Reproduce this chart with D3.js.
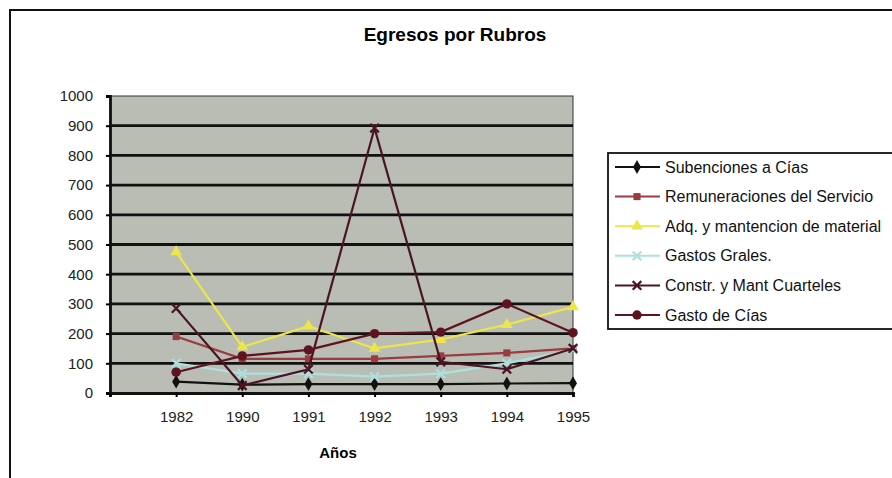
<!DOCTYPE html>
<html>
<head>
<meta charset="utf-8">
<title>Egresos por Rubros</title>
<style>
  body { margin: 0; background: #fff; }
  text { font-family: "Liberation Sans", Arial, sans-serif; }
</style>
<script src="https://d3js.org/d3.v7.min.js"></script>
</head>
<body>
<svg width="892" height="478"></svg>
<script>
// data
var years = ["1982", "1990", "1991", "1992", "1993", "1994", "1995"];
var subenciones    = [38, 28, 30, 30, 30, 32, 33];
var remuneraciones = [190, 115, 115, 115, 125, 135, 150];
var adquisicion    = [475, 155, 225, 150, 180, 230, 290];
var gastosGrales   = [100, 65, 65, 55, 65, 100, 145];
var construccion   = [285, 25, 80, 892, 105, 80, 150];
var gastoCias      = [70, 125, 145, 200, 205, 300, 203];
var yTicks = [0, 100, 200, 300, 400, 500, 600, 700, 800, 900, 1000];

var series = [
  { name: "Subenciones a Cías", values: subenciones, color: "#111", marker: "diamond" },
  { name: "Remuneraciones del Servicio", values: remuneraciones, color: "#9a3b42", marker: "square" },
  { name: "Adq. y mantencion de material", values: adquisicion, color: "#ece64a", marker: "triangle" },
  { name: "Gastos Grales.", values: gastosGrales, color: "#aee0df", marker: "x" },
  { name: "Constr. y Mant Cuarteles", values: construccion, color: "#4a1424", marker: "x" },
  { name: "Gasto de Cías", values: gastoCias, color: "#5e1420", marker: "circle" }
];

var svg = d3.select("svg");

// outer frame
svg.append("path")
  .attr("d", "M10,478 L10,10 L892,10")
  .attr("fill", "none").attr("stroke", "#111").attr("stroke-width", 2);

svg.append("text")
  .attr("x", 455).attr("y", 41)
  .attr("text-anchor", "middle")
  .attr("font-size", "19px").attr("font-weight", "bold")
  .text("Egresos por Rubros");

var plotLeft = 110, plotRight = 573, plotTop = 96, plotBottom = 393;

var x = d3.scalePoint().domain([""].concat(years)).range([plotLeft, plotRight]);
var y = d3.scaleLinear().domain([0, 1000]).range([plotBottom, plotTop]);

// plot background
svg.append("rect")
  .attr("x", plotLeft).attr("y", plotTop)
  .attr("width", plotRight - plotLeft).attr("height", plotBottom - plotTop)
  .attr("fill", "#b9bdb4").attr("stroke", "#333").attr("stroke-width", 1);

// gridlines
svg.append("g").selectAll("line")
  .data(yTicks.filter(function(d) { return d > 0 && d < 1000; }))
  .enter().append("line")
  .attr("x1", plotLeft).attr("x2", plotRight)
  .attr("y1", function(d) { return y(d); })
  .attr("y2", function(d) { return y(d); })
  .attr("stroke", "#111").attr("stroke-width", 2.8);

// axes
var yAxis = svg.append("g")
  .attr("transform", "translate(" + plotLeft + ",0)")
  .call(d3.axisLeft(y).tickValues(yTicks).tickFormat(d3.format("d")).tickSize(4).tickPadding(13));
yAxis.select(".domain").attr("stroke", "#111").attr("stroke-width", 2.8);
yAxis.selectAll("line").attr("stroke-width", 2);
yAxis.selectAll("text").attr("font-size", "15px").attr("fill", "#222")
  .attr("font-family", "'Liberation Sans', Arial, sans-serif");

var xAxis = svg.append("g")
  .attr("transform", "translate(0," + plotBottom + ")")
  .call(d3.axisBottom(x).tickSize(4).tickPadding(14));
xAxis.select(".domain").attr("stroke", "#111").attr("stroke-width", 2.8);
xAxis.selectAll("line").attr("stroke-width", 2);
xAxis.selectAll("text").attr("font-size", "15px").attr("fill", "#222")
  .attr("font-family", "'Liberation Sans', Arial, sans-serif");

svg.append("text")
  .attr("x", 338).attr("y", 458)
  .attr("text-anchor", "middle")
  .attr("font-size", "15px").attr("font-weight", "bold")
  .text("Años");

function drawMarker(g, type, color) {
  if (type === "diamond") {
    g.append("path").attr("d", d3.symbol().type(d3.symbolDiamond).size(55)).attr("fill", color);
  } else if (type === "square") {
    g.append("path").attr("d", d3.symbol().type(d3.symbolSquare).size(50)).attr("fill", color);
  } else if (type === "triangle") {
    g.append("path").attr("d", d3.symbol().type(d3.symbolTriangle).size(60)).attr("fill", color);
  } else if (type === "circle") {
    g.append("path").attr("d", d3.symbol().type(d3.symbolCircle).size(70)).attr("fill", color);
  } else {
    g.append("path").attr("d", d3.symbol().type(d3.symbolX).size(50))
      .attr("fill", "none").attr("stroke", color).attr("stroke-width", 2.2);
  }
}

var line = d3.line()
  .x(function(d, i) { return x(years[i]); })
  .y(function(d) { return y(d); });

series.forEach(function(s) {
  svg.append("path")
    .datum(s.values)
    .attr("d", line)
    .attr("fill", "none")
    .attr("stroke", s.color)
    .attr("stroke-width", 2.2);
  s.values.forEach(function(v, i) {
    var g = svg.append("g").attr("transform", "translate(" + x(years[i]) + "," + y(v) + ")");
    drawMarker(g, s.marker, s.color);
  });
});

// legend
var legend = svg.append("g");
legend.append("rect")
  .attr("x", 608).attr("y", 153).attr("width", 290).attr("height", 176)
  .attr("fill", "#fff").attr("stroke", "#111").attr("stroke-width", 1.8);

series.forEach(function(s, i) {
  var ly = 167 + i * 29.6;
  legend.append("line")
    .attr("x1", 615).attr("x2", 660).attr("y1", ly).attr("y2", ly)
    .attr("stroke", s.color).attr("stroke-width", 2);
  var g = legend.append("g").attr("transform", "translate(637," + ly + ")");
  drawMarker(g, s.marker, s.color);
  legend.append("text")
    .attr("x", 665).attr("y", ly + 5.5)
    .attr("font-size", "16px").attr("fill", "#111")
    .text(s.name);
});
</script>
</body>
</html>
